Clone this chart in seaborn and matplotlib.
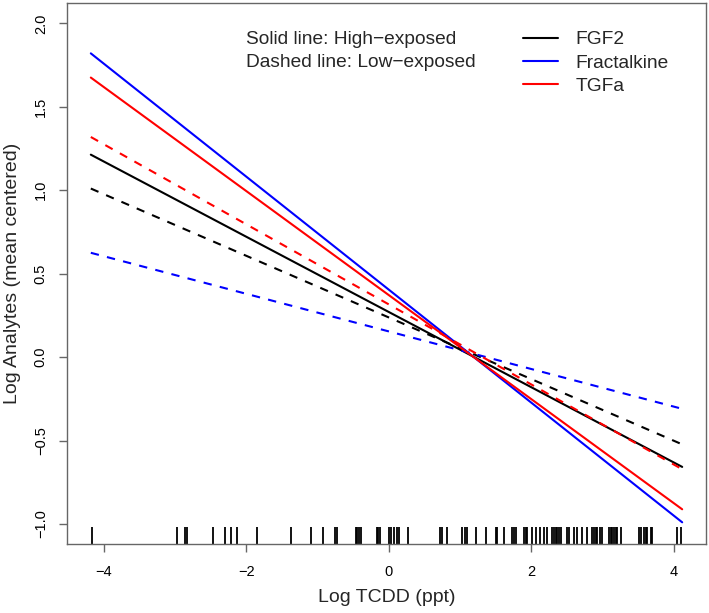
import matplotlib
matplotlib.use("Agg")
import matplotlib.pyplot as plt
from matplotlib.lines import Line2D
import seaborn as sns
import pandas as pd
import numpy as np

# ---- data ----
x_ends = [-4.18, 4.12]
analytes = ["FGF2", "Fractalkine", "TGFa"]
high_FGF2 = [1.213, -0.658]
high_Fractalkine = [1.82, -0.99]
high_TGFa = [1.675, -0.912]
low_FGF2 = [1.01, -0.523]
low_Fractalkine = [0.625, -0.31]
low_TGFa = [1.319, -0.672]

rug_x = [-4.17, -2.97, -2.86, -2.83, -2.46, -2.30, -2.21, -2.13,
         -1.853, -1.376, -1.085, -0.916, -0.754, -0.72, -0.463, -0.44, -0.417, -0.393,
         -0.169, -0.15, -0.122, 0.004, 0.038, 0.075, 0.112, 0.145,
         0.271, 0.72, 0.753, 0.824, 1.034, 1.066, 1.104, 1.221, 1.361, 1.502, 1.526,
         1.618, 1.736, 1.758, 1.782, 1.899, 1.923, 1.937, 2.017, 2.063, 2.123, 2.18,
         2.227, 2.297, 2.32, 2.344, 2.367,
         2.39, 2.424, 2.498, 2.531, 2.601, 2.649, 2.719, 2.789, 2.859, 2.881, 2.905,
         2.929, 2.966, 2.999, 3.092, 3.116, 3.14, 3.162, 3.186, 3.21, 3.256, 3.513,
         3.537, 3.583, 3.607, 3.631, 3.677, 3.701, 4.052, 4.108]

colors = {"FGF2": "black", "Fractalkine": "#0000FF", "TGFa": "#FF0000"}

rows = []
series = {("High", "FGF2"): high_FGF2, ("High", "Fractalkine"): high_Fractalkine,
          ("High", "TGFa"): high_TGFa, ("Low", "FGF2"): low_FGF2,
          ("Low", "Fractalkine"): low_Fractalkine, ("Low", "TGFa"): low_TGFa}
for (exp, an), ys in series.items():
    for xv, yv in zip(x_ends, ys):
        rows.append({"x": xv, "y": yv, "analyte": an, "exposure": exp})
df = pd.DataFrame(rows)

sns.set_theme(style="white")
plt.rcParams["font.family"] = ["Liberation Sans", "DejaVu Sans"]

fig = plt.figure(figsize=(7.09, 6.13), dpi=100)
ax = fig.add_axes([67.3 / 709, 1 - 544 / 613, 638.4 / 709, 540.7 / 613])

sns.lineplot(data=df, x="x", y="y", hue="analyte", style="exposure",
             palette=colors, dashes={"High": "", "Low": (4, 4)},
             linewidth=1.5, legend=False, ax=ax, sort=False)

sns.rugplot(x=rug_x, height=0.031, color="black", linewidth=1.3, ax=ax)

ax.set_xlim(-4.51, 4.45)
ax.set_ylim(-1.12, 2.12)
ax.set_xticks([-4, -2, 0, 2, 4])
ax.set_xticklabels(["\u22124", "\u22122", "0", "2", "4"])
ax.set_yticks([-1.0, -0.5, 0.0, 0.5, 1.0, 1.5, 2.0])
ax.set_yticklabels(["\u22121.0", "\u22120.5", "0.0", "0.5", "1.0", "1.5", "2.0"],
                   rotation=90, va="center")

for sp in ax.spines.values():
    sp.set_color("#666666")
    sp.set_linewidth(1.0)
ax.tick_params(axis="both", which="major", direction="out", length=6, width=1,
               color="#666666", labelsize=10.5, labelcolor="black",
               bottom=True, left=True)
ax.tick_params(axis="x", pad=9)
ax.tick_params(axis="y", pad=8)

ax.set_xlabel("Log TCDD (ppt)", fontsize=14, va="center")
ax.set_ylabel("Log Analytes (mean centered)", fontsize=14, va="center")
ax.xaxis.set_label_coords(0.5, (544 - 597) / 540.7)
ax.yaxis.set_label_coords((13 - 67.3) / 638.4, 0.5)

ax.text((246 - 67.3) / 638.4, (544 - 40) / 540.7, "Solid line: High\u2212exposed",
        transform=ax.transAxes, fontsize=13.8, va="center", ha="left")
ax.text((246 - 67.3) / 638.4, (544 - 62.5) / 540.7, "Dashed line: Low\u2212exposed",
        transform=ax.transAxes, fontsize=13.8, va="center", ha="left")

handles = [Line2D([0], [0], color=colors[a], lw=1.5) for a in analytes]
leg = ax.legend(handles, analytes, loc="upper left",
                bbox_to_anchor=((523 - 67.3) / 638.4, (544 - 31) / 540.7),
                frameon=False, fontsize=13.8, handlelength=1.85, handletextpad=0.9,
                labelspacing=0.3, borderpad=0, borderaxespad=0)

fig.savefig("out.png", dpi=100)
